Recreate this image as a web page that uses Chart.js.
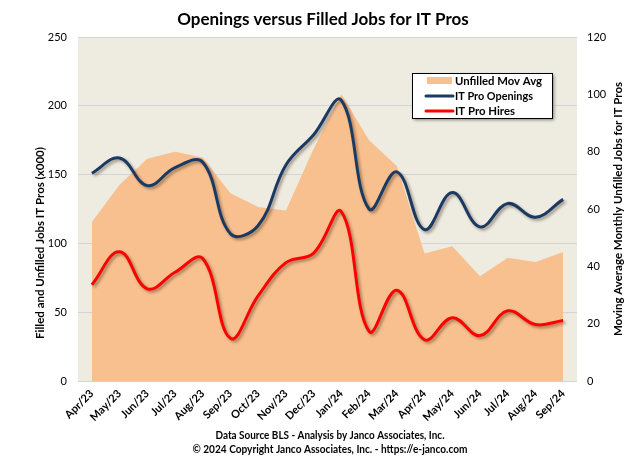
<!DOCTYPE html>
<html>
<head>
<meta charset="utf-8">
<script src="https://cdn.jsdelivr.net/npm/chart.js@4.4.1/dist/chart.umd.min.js"></script>
<style>
  html, body { margin: 0; padding: 0; background: #ffffff; }
  #wrap { width: 636px; height: 466px; position: relative; }
</style>
</head>
<body>
<div id="wrap"><canvas id="c" width="636" height="466"></canvas></div>
<script>
const months = ["Apr/23","May/23","Jun/23","Jul/23","Aug/23","Sep/23","Oct/23","Nov/23","Dec/23","Jan/24","Feb/24","Mar/24","Apr/24","May/24","Jun/24","Jul/24","Aug/24","Sep/24"];
const openings = [151, 162, 142, 155, 159, 107, 113, 157, 179, 204, 125, 152, 110, 137, 112, 129, 119, 132];
const hires = [70, 94, 67, 79, 89, 31, 62, 86, 93, 123, 36, 66, 30, 46, 33, 51, 41, 44];
const unfilledMovAvg = [55.5, 68.5, 77.5, 80, 78, 65.5, 60.7, 59.5, 81, 100, 84, 75, 44.5, 47, 36.5, 43, 41.5, 45];
const leftTicks = [0, 50, 100, 150, 200, 250];
const rightTicks = [0, 20, 40, 60, 80, 100, 120];

const FONT = "Lato, 'Open Sans', 'DejaVu Sans', sans-serif";

const bgPlugin = {
  id: 'plotBg',
  beforeDraw(chart) {
    const {ctx, chartArea: a} = chart;
    ctx.save();
    ctx.fillStyle = '#EEEBE1';
    ctx.fillRect(a.left, a.top, a.right - a.left, a.bottom - a.top);
    ctx.restore();
  }
};

const shadowPlugin = {
  id: 'shadows',
  beforeDatasetDraw(chart, args) {
    const ctx = chart.ctx;
    ctx.save();
    if (args.index === 0) {
      ctx.shadowColor = 'rgba(0,0,0,0.45)';
      ctx.shadowBlur = 7;
      ctx.shadowOffsetX = 2;
      ctx.shadowOffsetY = 0;
    } else {
      ctx.shadowColor = 'rgba(60,40,20,0.45)';
      ctx.shadowBlur = 3;
      ctx.shadowOffsetX = 2;
      ctx.shadowOffsetY = 2;
    }
  },
  afterDatasetDraw(chart) {
    chart.ctx.restore();
  }
};

function fitText(ctx, text, x, y, maxW) {
  const w = ctx.measureText(text).width;
  if (w > maxW) ctx.fillText(text, x, y, maxW); else ctx.fillText(text, x, y);
}

const textPlugin = {
  id: 'texts',
  afterDraw(chart) {
    const ctx = chart.ctx;
    ctx.save();
    ctx.fillStyle = '#000';
    ctx.textBaseline = 'middle';
    ctx.textAlign = 'center';
    // title
    ctx.font = "bold 17px " + FONT;
    fitText(ctx, "Openings versus Filled Jobs for IT Pros", 323, 20, 296);
    // footnotes
    ctx.font = "bold 10.5px " + FONT;
    fitText(ctx, "Data Source BLS - Analysis by Janco Associates, Inc.", 330, 436, 229);
    fitText(ctx, "\u00A9 2024 Copyright Janco Associates, Inc. - https://e-janco.com", 330, 450, 275);
    // left axis title
    ctx.save();
    ctx.translate(40, 243);
    ctx.rotate(-Math.PI / 2);
    ctx.font = "bold 11.5px " + FONT;
    fitText(ctx, "Filled and Unfilled Jobs IT Pros (x000)", 0, 0, 270);
    ctx.restore();
    // right axis title
    ctx.save();
    ctx.translate(618, 209);
    ctx.rotate(-Math.PI / 2);
    ctx.font = "bold 11.5px " + FONT;
    fitText(ctx, "Moving Average Monthly Unfilled Jobs for IT Pros", 0, 0, 272);
    ctx.restore();

    // legend
    const bx = 412, by = 73, bw = 140, bh = 45;
    ctx.save();
    ctx.shadowColor = 'rgba(0,0,0,0.45)';
    ctx.shadowBlur = 3;
    ctx.shadowOffsetX = 2;
    ctx.shadowOffsetY = 2;
    ctx.fillStyle = '#ffffff';
    ctx.fillRect(bx, by, bw, bh);
    ctx.restore();
    ctx.strokeStyle = '#000';
    ctx.lineWidth = 1;
    ctx.strokeRect(bx + 0.5, by + 0.5, bw, bh);
    const ds = chart.data.datasets;
    ctx.fillStyle = ds[0].backgroundColor;
    ctx.fillRect(427, 77, 25, 7);
    ctx.lineCap = 'round';
    ctx.lineWidth = 3;
    ctx.strokeStyle = ds[1].borderColor;
    ctx.beginPath(); ctx.moveTo(426, 96); ctx.lineTo(453, 96); ctx.stroke();
    ctx.strokeStyle = ds[2].borderColor;
    ctx.beginPath(); ctx.moveTo(426, 111); ctx.lineTo(453, 111); ctx.stroke();
    ctx.fillStyle = '#000';
    ctx.textAlign = 'left';
    ctx.font = "bold 11.5px " + FONT;
    fitText(ctx, ds[0].label, 455, 81, 87);
    fitText(ctx, ds[1].label, 455, 96, 78);
    fitText(ctx, ds[2].label, 455, 111, 60);
    ctx.restore();
  }
};

new Chart(document.getElementById('c'), {
  type: 'line',
  data: {
    labels: months,
    datasets: [
      {
        label: 'Unfilled Mov Avg',
        data: unfilledMovAvg,
        yAxisID: 'y1',
        fill: 'origin',
        backgroundColor: '#F9C08F',
        borderColor: '#F9C08F',
        borderWidth: 0,
        pointRadius: 0,
        tension: 0,
        order: 3
      },
      {
        label: 'IT Pro Openings',
        data: openings,
        yAxisID: 'y',
        fill: false,
        borderColor: '#1B3A63',
        borderWidth: 3,
        pointRadius: 0,
        tension: 0.4,
        order: 2
      },
      {
        label: 'IT Pro Hires',
        data: hires,
        yAxisID: 'y',
        fill: false,
        borderColor: '#FF0000',
        borderWidth: 3,
        pointRadius: 0,
        tension: 0.4,
        order: 1
      }
    ]
  },
  options: {
    responsive: false,
    animation: false,
    devicePixelRatio: 1,
    layout: { padding: { left: 0, right: 0, top: 37, bottom: 0 } },
    plugins: {
      legend: { display: false },
      title: { display: false },
      tooltip: { enabled: false }
    },
    scales: {
      x: {
        type: 'category',
        offset: true,
        grid: { display: false, drawTicks: false },
        border: { display: false },
        ticks: {
          minRotation: 45,
          maxRotation: 45,
          padding: 6,
          color: '#000',
          font: { family: FONT, size: 11, weight: 'bold' }
        },
        afterFit(s) { s.height = 85; }
      },
      y: {
        position: 'left',
        min: 0,
        max: 250,
        afterBuildTicks(s) { s.ticks = leftTicks.map(v => ({ value: v })); },
        grid: { color: '#D3D3DB', lineWidth: 1, drawTicks: false },
        border: { display: false },
        ticks: {
          padding: 11,
          color: '#000',
          font: { family: FONT, size: 11 }
        },
        afterFit(s) { s.width = 78; }
      },
      y1: {
        position: 'right',
        min: 0,
        max: 120,
        afterBuildTicks(s) { s.ticks = rightTicks.map(v => ({ value: v })); },
        grid: { display: false, drawTicks: false },
        border: { display: false },
        ticks: {
          padding: 10,
          color: '#000',
          font: { family: FONT, size: 11 }
        },
        afterFit(s) { s.width = 59; }
      }
    }
  },
  plugins: [bgPlugin, shadowPlugin, textPlugin]
});
</script>
</body>
</html>
